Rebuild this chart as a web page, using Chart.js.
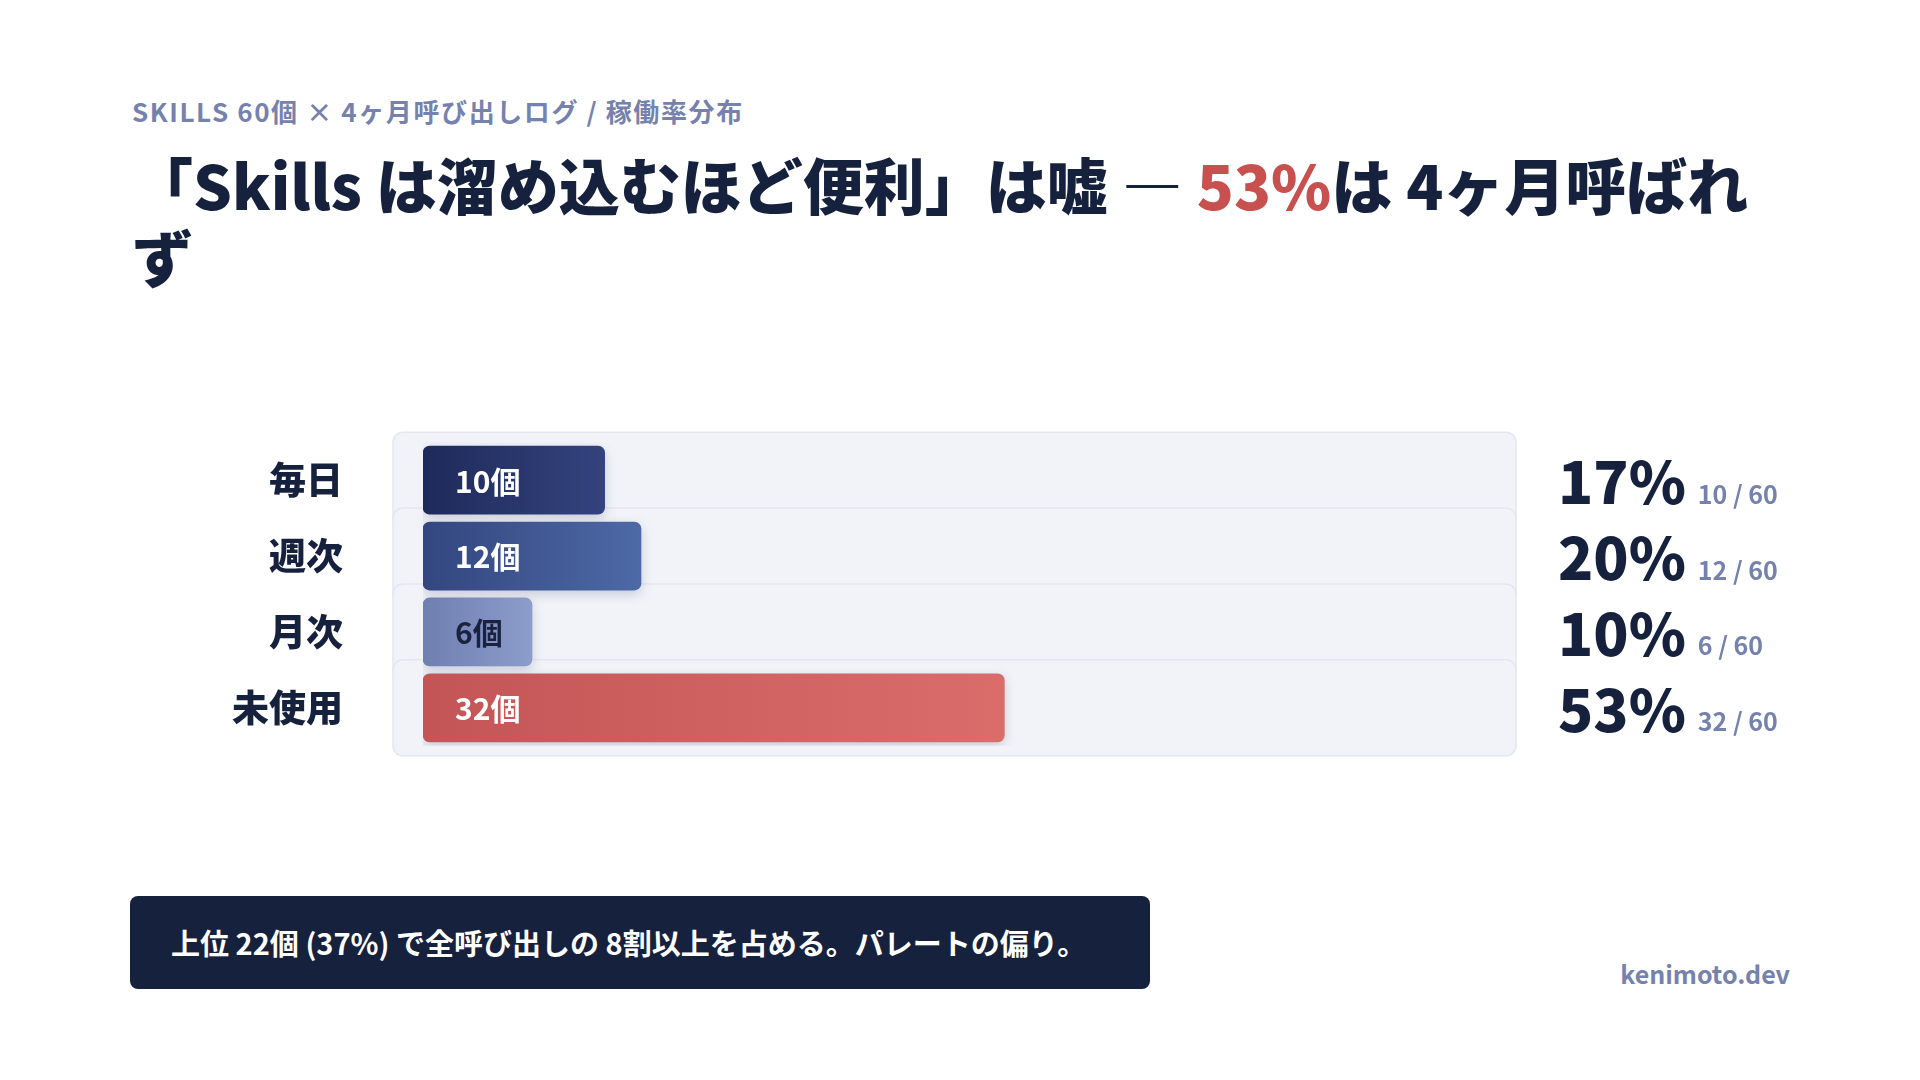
<!DOCTYPE html>
<html lang="ja">
<head>
<meta charset="utf-8">
<script src="https://cdn.jsdelivr.net/npm/chart.js@4"></script>
<style>
  body { margin: 0; width: 1920px; height: 1080px; background: #fff; position: relative; overflow: hidden;
         font-family: "Noto Sans CJK JP", "Noto Sans", sans-serif; color: #16213e; }
  .sub { position: absolute; left: 132px; top: 92px; font-size: 26px; font-weight: 700; color: #7482ad; letter-spacing: 1.6px; }
  .title { position: absolute; left: 132px; top: 148px; width: 1650px; font-size: 61px; font-weight: 900; line-height: 72px; letter-spacing: 0; }
  .title .hl { color: #c8504f; }
  #wrap { position: absolute; left: 0; top: 348px; width: 1920px; height: 492px; }
  .note { position: absolute; left: 130px; top: 896px; width: 1020px; height: 93px; background: #16213e; border-radius: 8px;
          color: #fff; font-size: 29px; font-weight: 700; line-height: 93px; box-sizing: border-box; padding-left: 41px; }
  .brand { position: absolute; right: 130px; top: 955px; font-size: 25px; font-weight: 700; color: #7482ad; }
</style>
</head>
<body>
<div class="sub">SKILLS 60個 × 4ヶ月呼び出しログ / 稼働率分布</div>
<div class="title">「Skills は溜め込むほど便利」は嘘 — <span class="hl">53%</span>は 4ヶ月呼ばれず</div>
<div id="wrap"><canvas id="chart"></canvas></div>
<div class="note">上位 22個 (37%) で全呼び出しの 8割以上を占める。パレートの偏り。</div>
<div class="brand">kenimoto.dev</div>
<script>
const categories = ['毎日', '週次', '月次', '未使用'];
const counts = [10, 12, 6, 32];
const total = 60;
const percentLabels = ['17%', '20%', '10%', '53%'];
const gradientStops = [['#1e2a5a', '#35437e'], ['#33467f', '#4d69a6'], ['#6e7fb0', '#8c9ccb'], ['#c45557', '#da6d6a']];
const innerTextColors = ['#ffffff', '#ffffff', '#1a2240', '#ffffff'];

const FONT = '"Noto Sans CJK JP", "Noto Sans", sans-serif';

// Track behind every row, shadow on bars, labels after
const trackPlugin = {
    id: 'tracks',
    beforeDatasetsDraw(chart) {
        const ctx = chart.ctx;
        const meta = chart.getDatasetMeta(0);
        ctx.save();
        meta.data.forEach(bar => {
            ctx.beginPath();
            ctx.roundRect(393, bar.y - 48, 1123, 96, 10);
            ctx.fillStyle = '#f1f3f9';
            ctx.fill();
            ctx.strokeStyle = '#e4e7ef';
            ctx.lineWidth = 1.5;
            ctx.stroke();
        });
        ctx.restore();
        ctx.save();
        ctx.shadowColor = 'rgba(20, 30, 70, 0.18)';
        ctx.shadowBlur = 12;
        ctx.shadowOffsetY = 4;
    },
    afterDatasetsDraw(chart) {
        const ctx = chart.ctx;
        ctx.restore();
        const meta = chart.getDatasetMeta(0);
        ctx.save();
        ctx.textBaseline = 'middle';
        meta.data.forEach((bar, i) => {
            ctx.font = `700 30px ${FONT}`;
            ctx.fillStyle = innerTextColors[i];
            ctx.textAlign = 'left';
            ctx.fillText(counts[i] + '個', bar.base + 32, bar.y + 1);
            ctx.font = `900 58px ${FONT}`;
            ctx.fillStyle = '#16213e';
            ctx.fillText(percentLabels[i], 1558, bar.y + 2);
            const w = ctx.measureText(percentLabels[i]).width;
            ctx.font = `700 25px ${FONT}`;
            ctx.fillStyle = '#7482ad';
            ctx.fillText(`${counts[i]} / ${total}`, 1558 + w + 12, bar.y + 14);
        });
        ctx.restore();
    }
};

const ctx = document.getElementById('chart');
new Chart(ctx, {
    type: 'bar',
    data: {
        labels: categories,
        datasets: [{
            data: counts,
            barThickness: 68,
            borderRadius: 7,
            borderSkipped: false,
            backgroundColor: c => {
                const xs = c.chart.scales.x;
                if (!c.chart.chartArea || !xs) return gradientStops[c.dataIndex][0];
                const x0 = xs.getPixelForValue(0);
                const x1 = xs.getPixelForValue(counts[c.dataIndex]);
                if (!isFinite(x0) || !isFinite(x1)) return gradientStops[c.dataIndex][0];
                const g = c.chart.ctx.createLinearGradient(x0, 0, x1, 0);
                g.addColorStop(0, gradientStops[c.dataIndex][0]);
                g.addColorStop(1, gradientStops[c.dataIndex][1]);
                return g;
            }
        }]
    },
    options: {
        indexAxis: 'y',
        responsive: true,
        maintainAspectRatio: false,
        animation: false,
        layout: { padding: { left: 0, right: 407, top: 0, bottom: 0 } },
        plugins: { legend: { display: false }, tooltip: { enabled: false } },
        scales: {
            x: { display: false, min: 0, max: total },
            y: {
                grid: { display: false },
                border: { display: false },
                afterFit: s => { s.width = 423; },
                ticks: { padding: 72, color: '#16213e', font: { family: FONT, size: 37, weight: '900' } }
            }
        }
    },
    plugins: [trackPlugin]
});
</script>
</body>
</html>
